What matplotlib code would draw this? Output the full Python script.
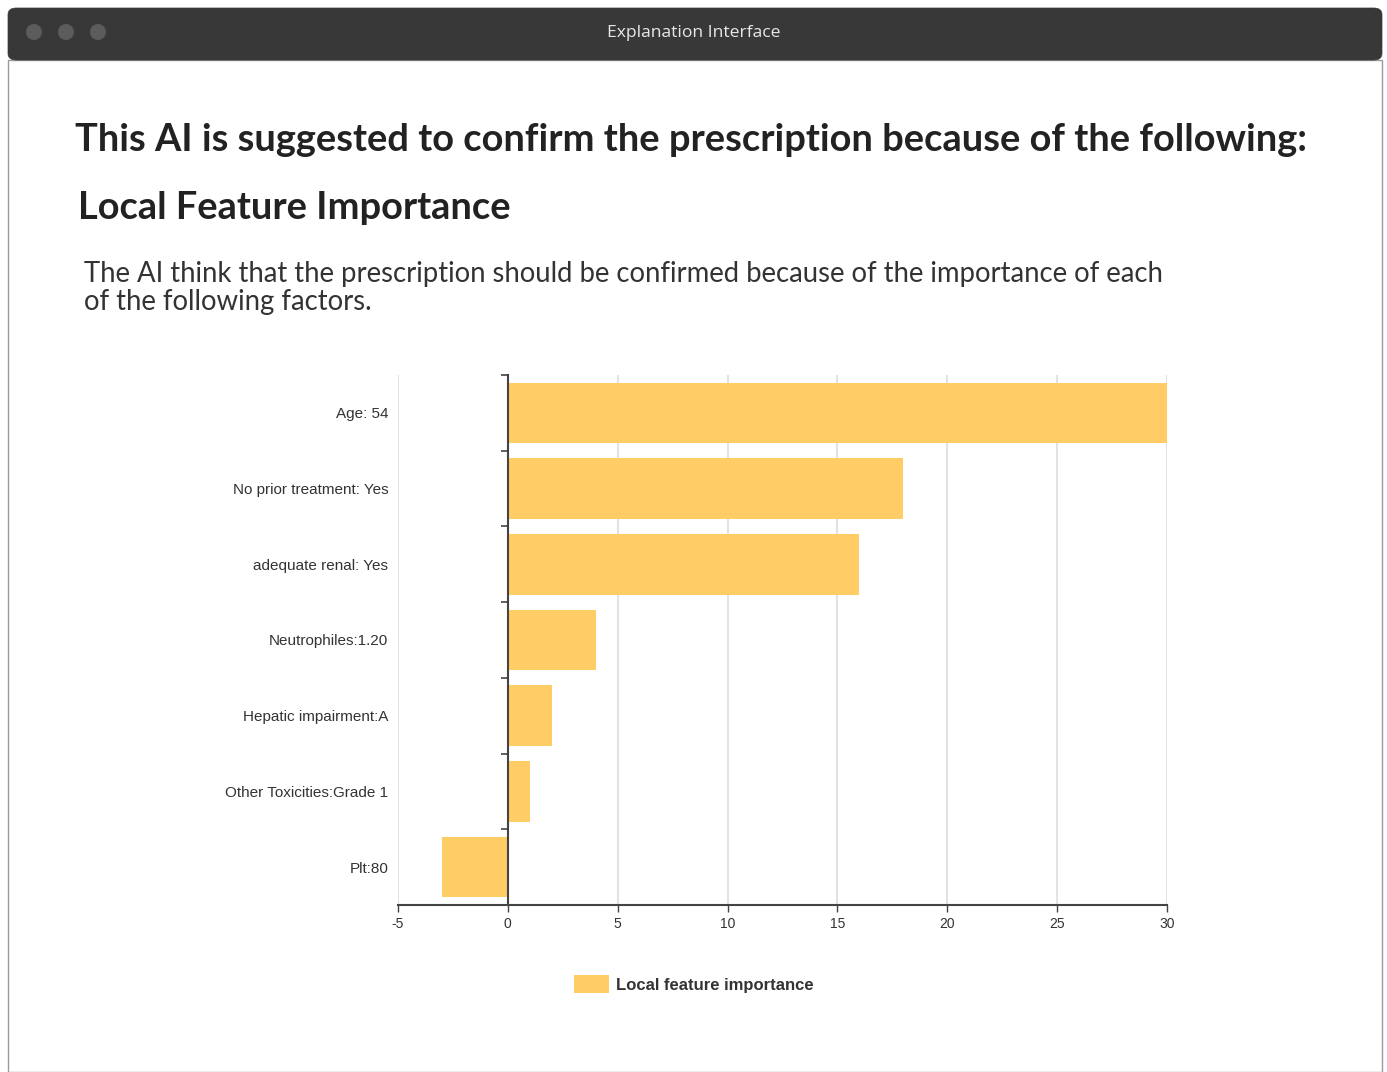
import matplotlib
matplotlib.use("Agg")
import matplotlib.pyplot as plt
from matplotlib.patches import FancyBboxPatch, Rectangle, Circle

# ---- data ----
features = ["Age: 54", "No prior treatment: Yes", "adequate renal: Yes",
            "Neutrophiles:1.20", "Hepatic impairment:A",
            "Other Toxicities:Grade 1", "Plt:80"]
importance = [30, 18, 16, 4, 2, 1, -3]
x_ticks = [-5, 0, 5, 10, 15, 20, 25, 30]
legend_label = "Local feature importance"

window_title = "Explanation Interface"
heading1 = "This AI is suggested to confirm the prescription because of the following:"
heading2 = "Local Feature Importance"
paragraph = ("The AI think that the prescription should be confirmed because of the importance of each\n"
             "of the following factors.")

W, H = 1387, 1072
fig = plt.figure(figsize=(W / 100, H / 100), dpi=100)
fig.patch.set_facecolor("white")

def fx(px):
    return px / W

def fy(py):
    return 1 - py / H

# window frame
frame = Rectangle((fx(8), fy(1072)), fx(1382) - fx(8), fy(60) - fy(1072),
                  transform=fig.transFigure, facecolor="white",
                  edgecolor="#9a9a9a", linewidth=1.0, zorder=-10)
fig.add_artist(frame)
bar = FancyBboxPatch((fx(8), fy(60)), fx(1382) - fx(8), fy(8) - fy(60),
                     boxstyle="round,pad=0,rounding_size=0.006",
                     transform=fig.transFigure, facecolor="#383838",
                     edgecolor="#383838", linewidth=0.5, zorder=-9)
fig.add_artist(bar)
for cx in (34, 66, 98):
    c = Circle((cx, H - 32), 8, transform=None, facecolor="#5c5c5c",
               edgecolor="none", zorder=-8)
    fig.add_artist(c)
fig.text(fx(694), fy(33), window_title, color="#e8e8e8", fontsize=12.6,
         family="Open Sans", ha="center", va="center")

fig.text(fx(75), fy(140), heading1, fontsize=27.4, fontweight="bold",
         family="Lato", color="#222222", ha="left", va="center")
fig.text(fx(78), fy(208), heading2, fontsize=27.4, fontweight="bold",
         family="Lato", color="#222222", ha="left", va="center")
fig.text(fx(84), fy(288), paragraph, fontsize=19.8, family="Lato",
         color="#333333", ha="left", va="center", linespacing=1.12)

# ---- chart ----
ax = fig.add_axes([fx(398), fy(905), fx(1167) - fx(398), fy(375) - fy(905)])
ax.set_zorder(2)
ypos = list(range(len(features)))
ax.barh(ypos, importance, height=0.8, color="#FFCC66", zorder=3)
ax.set_xlim(-5, 30)
ax.set_ylim(len(features) - 0.5, -0.5)
ax.set_xticks(x_ticks)
ax.set_xticklabels([str(t) for t in x_ticks], fontsize=10, color="#333333",
                   family="Liberation Sans")
ax.set_yticks(ypos)
ax.set_yticklabels(features, fontsize=11, color="#333333",
                   family="Liberation Sans")
for lbl in ax.get_yticklabels():
    lbl.set_va("center_baseline")
ax.tick_params(axis="y", length=0, pad=7)
ax.tick_params(axis="x", length=5, width=1, color="#444444", pad=4)
ax.grid(axis="x", color="#e3e3e3", linewidth=1.5, zorder=0)
ax.set_axisbelow(True)
for s in ("top", "right", "left"):
    ax.spines[s].set_visible(False)
ax.spines["bottom"].set_color("#444444")
ax.spines["bottom"].set_linewidth(1.5)
ax.set_facecolor("none")

# zero line with category boundary ticks
xmin, xmax = ax.get_xlim()
sec = ax.secondary_yaxis((0 - xmin) / (xmax - xmin))
sec.set_yticks([i - 0.5 for i in range(len(features) + 1)])
sec.set_yticklabels([])
sec.tick_params(length=5, width=1.2, color="#444444")
sec.spines["left"].set_color("#444444")
sec.spines["left"].set_linewidth(1.5)
sec.set_zorder(4)

# legend
leg = fig.legend([Rectangle((0, 0), 1, 1, facecolor="#FFCC66", edgecolor="none")],
                 [legend_label], loc="center", bbox_to_anchor=(fx(694), fy(984)),
                 frameon=False, handlelength=2.1, handleheight=1.2,
                 handletextpad=0.4,
                 prop={"family": "Liberation Sans", "weight": "bold", "size": 12})
for t in leg.get_texts():
    t.set_color("#333333")

fig.savefig("out.png", dpi=100, facecolor="white")
